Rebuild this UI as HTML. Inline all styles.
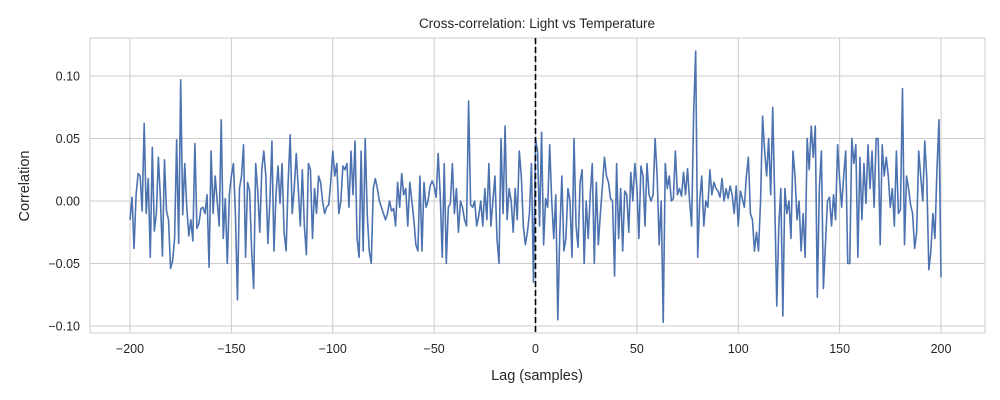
<!DOCTYPE html>
<html><head><meta charset="utf-8"><style>
html,body{margin:0;padding:0;background:#fff;}
svg{display:block;font-family:"Liberation Sans","DejaVu Sans",sans-serif;}
</style></head><body>
<svg id="chart" width="1000" height="400" viewBox="0 0 1000 400">
<rect x="90" y="38" width="895" height="295" fill="#fff" stroke="#cccccc" stroke-width="1"/>
<g id="grid"></g><g id="ticks"></g><g id="series"></g>
<text x="537" y="28" text-anchor="middle" font-size="13.5" fill="#262626">Cross-correlation: Light vs Temperature</text>
<text x="537" y="380" text-anchor="middle" font-size="14.5" fill="#262626">Lag (samples)</text>
<text transform="translate(29,186) rotate(-90)" text-anchor="middle" font-size="14.5" fill="#262626">Correlation</text>
</svg>
<script>
const values = [
-0.015,0.003,-0.038,0.005,0.022,0.020,-0.008,0.062,-0.010,0.018,-0.045,0.043,-0.024,-0.010,0.035,0.002,-0.044,0.033,-0.008,-0.015,-0.054,-0.048,-0.030,0.049,-0.034,0.097,-0.011,0.030,-0.005,-0.028,-0.015,-0.032,0.046,-0.022,-0.018,-0.006,-0.005,-0.010,0.005,-0.053,
0.040,-0.010,0.020,0.000,-0.020,0.065,-0.030,0.002,-0.050,0.005,0.020,0.030,-0.010,-0.079,0.010,0.020,0.045,-0.045,0.015,0.008,-0.040,-0.070,0.030,0.008,-0.025,0.025,0.040,0.020,-0.034,0.000,0.048,-0.040,0.005,0.028,-0.002,0.030,-0.025,-0.040,0.015,0.053,
-0.010,0.010,0.038,0.010,-0.020,0.025,-0.020,-0.043,0.030,0.025,-0.030,0.010,-0.010,0.020,0.015,0.000,-0.010,-0.005,-0.003,0.015,0.040,0.020,0.030,-0.010,0.000,0.028,0.025,0.030,-0.005,0.040,0.005,0.048,-0.030,-0.045,0.040,-0.040,0.050,-0.010,-0.040,-0.050,
0.010,0.018,0.010,0.000,-0.005,-0.010,-0.015,-0.010,0.000,-0.008,-0.006,-0.020,0.015,-0.005,0.022,0.005,0.010,-0.020,0.015,0.000,-0.015,-0.035,-0.040,0.020,-0.040,0.015,-0.005,0.000,0.012,0.016,0.012,0.003,0.038,0.005,-0.045,0.030,-0.050,-0.005,-0.002,0.030,
-0.010,0.010,-0.025,0.000,-0.005,-0.015,-0.020,0.080,-0.003,-0.005,0.000,-0.020,-0.012,0.000,-0.020,0.010,-0.015,0.030,-0.020,0.000,0.020,-0.030,-0.050,0.050,-0.010,0.060,-0.015,0.010,0.000,-0.025,0.010,-0.015,0.040,0.020,-0.020,-0.035,-0.025,-0.010,0.030,-0.065,
0.050,0.040,-0.020,0.055,-0.035,0.002,-0.005,0.045,0.000,-0.030,0.005,-0.095,-0.025,0.020,-0.040,-0.030,0.010,0.000,-0.045,0.050,-0.020,-0.037,0.015,0.025,-0.050,0.000,-0.030,0.005,0.030,-0.050,0.015,-0.035,-0.010,0.012,0.035,0.020,0.015,0.002,0.000,-0.060,
0.030,-0.030,0.010,-0.040,0.008,0.005,-0.025,0.023,0.000,0.030,0.011,-0.030,0.028,0.020,-0.020,0.030,0.005,0.000,0.005,0.050,0.020,-0.035,0.000,-0.097,0.030,0.010,0.020,0.000,0.002,0.040,0.005,0.010,0.004,0.023,0.005,0.026,0.000,-0.020,0.070,0.120,
-0.045,0.000,0.020,-0.020,0.000,-0.005,0.025,0.005,0.015,0.010,0.008,0.003,0.018,0.000,0.010,0.002,0.012,0.005,-0.010,0.012,-0.020,0.008,0.002,-0.005,0.020,0.035,-0.010,-0.015,-0.040,-0.025,-0.040,0.000,0.068,0.040,0.020,0.050,0.005,0.075,0.000,-0.084,
-0.020,0.010,-0.092,0.010,-0.010,0.000,-0.030,0.040,0.020,-0.015,0.000,-0.040,-0.010,-0.045,0.050,0.025,0.060,0.035,0.060,-0.077,0.010,0.040,-0.070,-0.035,0.000,0.003,-0.020,0.005,-0.015,0.045,0.017,-0.005,0.020,0.040,-0.050,-0.050,0.050,0.030,0.045,-0.045,
0.035,-0.015,0.030,-0.002,0.045,0.010,0.040,-0.005,0.050,0.050,-0.035,0.045,0.020,0.035,0.020,-0.005,0.010,-0.020,0.040,-0.010,-0.007,0.090,-0.035,0.020,0.010,-0.003,-0.010,-0.038,-0.025,0.040,0.020,0.000,0.048,0.018,-0.055,-0.040,-0.010,-0.030,0.025,0.065,-0.061
];
const xTicks = [-200,-150,-100,-50,0,50,100,150,200];
const xTickLabels = ["\u2212200","\u2212150","\u2212100","\u221250","0","50","100","150","200"];
const yTicks = [-0.10,-0.05,0.00,0.05,0.10];
const yTickLabels = ["\u22120.10","\u22120.05","0.00","0.05","0.10"];
const lagMin = -200, lagMax = 200;

const NS = "http://www.w3.org/2000/svg";
const X = v => 130 + (v - (-200)) * (811 / 400);
const Y = v => 201 - v * 1250;
const grid = document.getElementById('grid'), ticks = document.getElementById('ticks'), series = document.getElementById('series');
function mk(tag, attrs, parent){ const e=document.createElementNS(NS,tag); for(const k in attrs) e.setAttribute(k,attrs[k]); parent.appendChild(e); return e; }
xTicks.forEach((t,i)=>{
  const g = mk('line',{x1:X(t),x2:X(t),y1:38,y2:333,stroke:'#cccccc','stroke-width':1},grid);
  
  
  const tx = mk('text',{x:X(t),y:353,'text-anchor':'middle','font-size':12.5,fill:'#262626'},ticks);
  tx.textContent = xTickLabels[i];
  
  
});
yTicks.forEach((t,i)=>{
  const g = mk('line',{x1:90,x2:985,y1:Y(t),y2:Y(t),stroke:'#cccccc','stroke-width':1},grid);
  
  
  const tx = mk('text',{x:80,y:Y(t)+4.5,'text-anchor':'end','font-size':12.5,fill:'#262626'},ticks);
  tx.textContent = yTickLabels[i];
  
  
});
const n = values.length;
const pts = values.map((v,i)=>{ const lag = lagMin + i*(lagMax-lagMin)/(n-1); return X(lag).toFixed(2)+','+Y(v).toFixed(2); }).join(' ');
const line = mk('polyline',{points:pts,fill:'none',stroke:'#4c72b0','stroke-width':1.6,'stroke-linejoin':'round'},series);


const zl = mk('line',{x1:X(0),x2:X(0),y1:38,y2:333,stroke:'#000','stroke-width':1.6,'stroke-dasharray':'6,3'},series);


</script>
</body></html>
